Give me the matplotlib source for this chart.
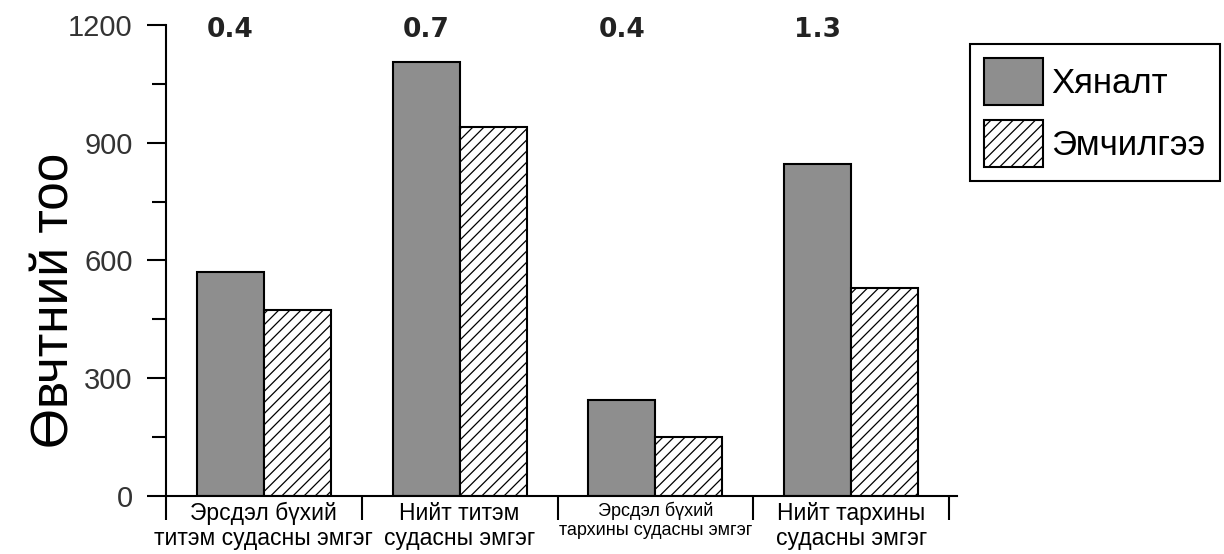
import numpy as np
import matplotlib.pyplot as plt
from matplotlib.patches import Patch

plt.rcParams['font.family'] = ['Liberation Sans', 'DejaVu Sans']
plt.rcParams['hatch.linewidth'] = 0.9
plt.rcParams['hatch.color'] = '#666666'

# 数据
categories = ['Эрсдэл бүхий\nтитэм судасны эмгэг',
              'Нийт титэм\nсудасны эмгэг',
              'Эрсдэл бүхий\nтархины судасны эмгэг',
              'Нийт тархины\nсудасны эмгэг']
control = [570, 1105, 245, 845]
treatment = [475, 940, 150, 530]
top_labels = ['0.4', '0.7', '0.4', '1.3']
yticks = [0, 300, 600, 900, 1200]

fig = plt.figure(figsize=(12.24, 5.54), dpi=100)
ax = fig.add_axes([0.1356, 0.1047, 0.6462, 0.8502])

x = np.arange(len(categories))
w = 0.342
ax.bar(x - w / 2, control, w, color='#8e8e8e', edgecolor='black', linewidth=1.5,
       label='Хяналт')
ax.bar(x + w / 2, treatment, w, color='white', edgecolor='black', linewidth=1.5,
       hatch='///', label='Эмчилгээ')

# 顶部数值
for xi, lab in zip(x, top_labels):
    ax.text(xi - w / 2, 1188, lab, ha='center', va='center', fontsize=19,
            fontweight='bold', family='DejaVu Sans', color='#222222')

ax.set_xlim(-0.5, 3.54)
ax.set_ylim(0, 1200)
ax.set_yticks(yticks)
ax.set_yticks(np.arange(150, 1200, 300), minor=True)
ax.tick_params(axis='y', which='major', length=14, width=1.5, labelsize=21,
               pad=10, labelcolor='#333333')
ax.tick_params(axis='y', which='minor', length=10, width=1.5)

ax.set_xticks(x)
ax.set_xticklabels(categories, fontsize=16.5, linespacing=1.15)
ax.get_xticklabels()[2].set_fontsize(13)
ax.set_xticks(np.arange(-0.5, 4, 1), minor=True)
ax.tick_params(axis='x', which='major', length=0, pad=4)
ax.tick_params(axis='x', which='minor', length=17, width=1.5)

for s in ['top', 'right']:
    ax.spines[s].set_visible(False)
for s in ['left', 'bottom']:
    ax.spines[s].set_linewidth(1.5)

ax.set_ylabel('Өвчтний тоо', fontsize=37, va='center')
ax.yaxis.set_label_coords(-0.140, 0.416)

handles = [Patch(facecolor='#8e8e8e', edgecolor='black', linewidth=1.5),
           Patch(facecolor='white', edgecolor='black', linewidth=1.5, hatch='///')]
leg = fig.legend(handles, ['Хяналт', 'Эмчилгээ'], loc='upper left',
                 bbox_to_anchor=(970 / 1224, 1 - 44 / 554), fontsize=25,
                 handlelength=1.7, handleheight=1.7, handletextpad=0.25,
                 borderpad=0.4, labelspacing=0.45, borderaxespad=0,
                 fancybox=False, edgecolor='black', framealpha=1)
leg.get_frame().set_linewidth(1.5)

plt.savefig('out.png', dpi=100)
